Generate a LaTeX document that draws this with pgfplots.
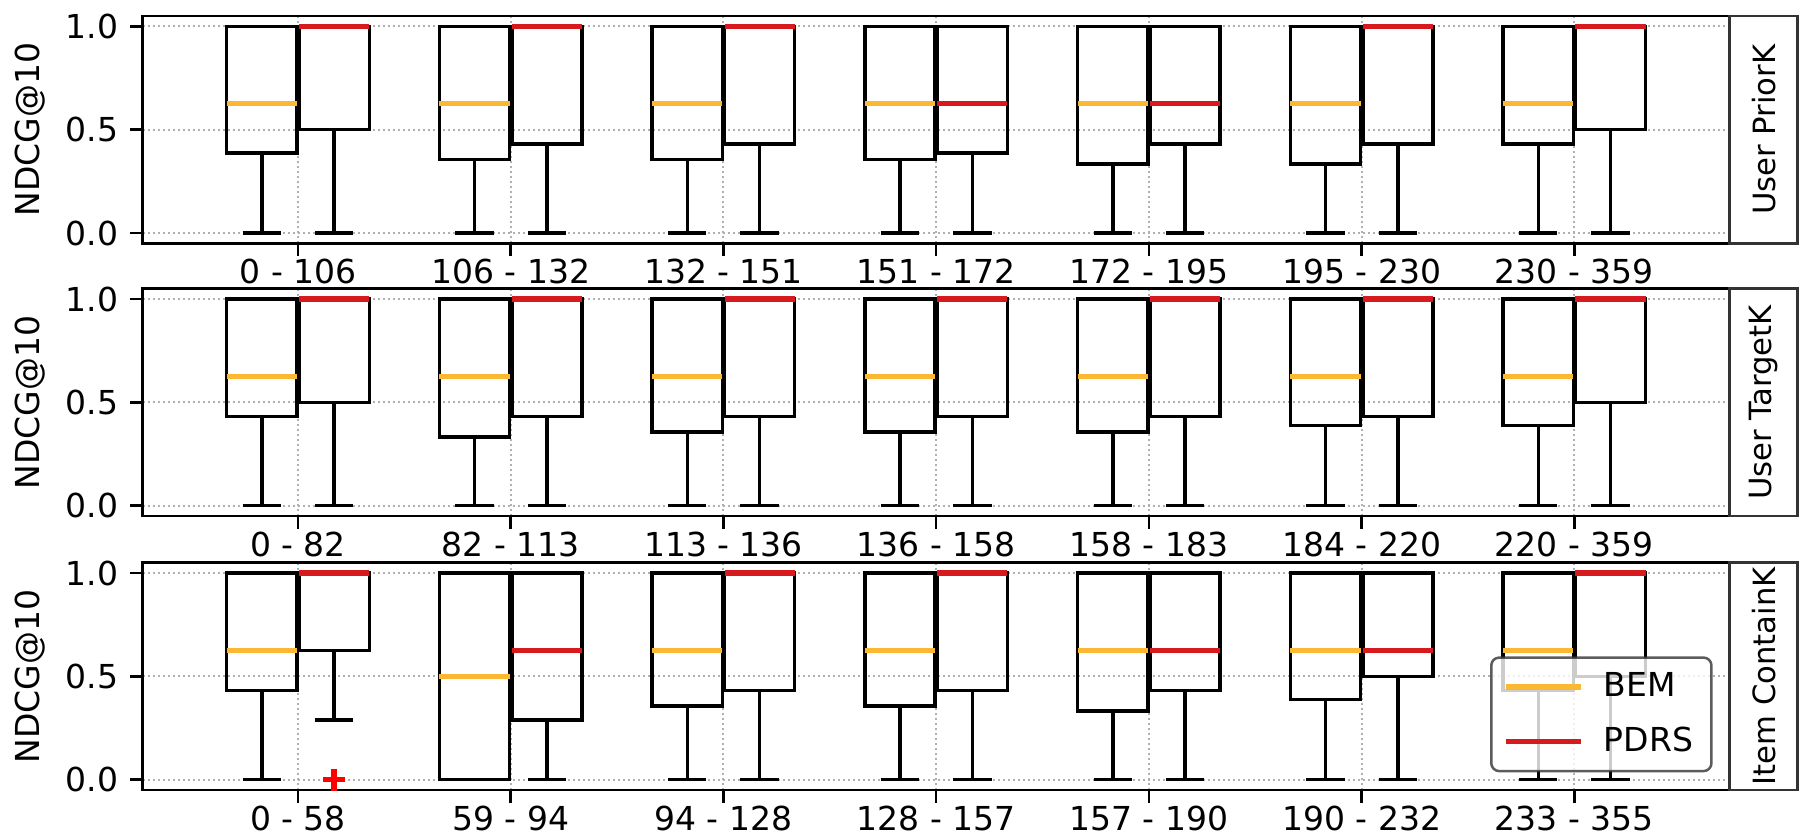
\documentclass[border=0pt]{standalone}
\usepackage{fontspec}
\setmainfont{DejaVu Sans}
\usepackage{pgfplots}
\pgfplotsset{compat=1.18}
\usepgfplotslibrary{statistics}
\definecolor{bem}{RGB}{252,184,50}
\definecolor{pdrs}{RGB}{214,26,30}
\definecolor{gridc}{RGB}{176,176,176}

\pgfplotsset{
  panel/.style={
    scale only axis, width=476.1pt, height=68.2pt,
    xmin=-0.73, xmax=6.73, ymin=-0.05, ymax=1.05,
    xtick={0,...,6}, ytick={0,0.5,1}, yticklabels={0.0,0.5,1.0},
    tick pos=left, tick align=outside, major tick length=3.8pt,
    every tick/.style={black, line width=0.75pt},
    axis line style={line width=0.75pt},
    xticklabel style={yshift=2.6pt},
    grid=major,
    major grid style={gridc, line width=0.6pt, dash pattern=on 0.6pt off 0.9pt},
    ylabel={NDCG@10},
    every axis y label/.style={at={(axis description cs:-0.071,0.5)}, anchor=center, rotate=90},
    clip=false,
    anchor=north west,
    font=\fontsize{9.9}{11.9}\selectfont,
    /pgf/number format/assume math mode=true,
    boxplot/draw direction=y,
  },
  bemb/.style={black, solid, line width=1.05pt, boxplot/every median/.style={draw=bem, line width=1.6pt}},
  pdrsb/.style={black, solid, line width=1.05pt, boxplot/every median/.style={draw=pdrs, line width=1.6pt}},
}
% #1 draw position, #2 lower whisker, #3 lower quartile, #4 median, #5 style
\newcommand{\bx}[5]{%
  \addplot[#5, forget plot, boxplot prepared={draw position=#1, lower whisker=#2,
    lower quartile=#3, median=#4, upper quartile=1, upper whisker=1,
    box extend=0.33, whisker extend=0.18}] coordinates {};}

\begin{document}
\begin{tikzpicture}
\useasboundingbox (0,0) rectangle (544.8pt,251.4pt);

% ---------------- User PriorK ----------------
\begin{axis}[panel, at={(42.81pt,246.6pt)},
  xticklabels={0 - 106,106 - 132,132 - 151,151 - 172,172 - 195,195 - 230,230 - 359}]
\bx{-0.17}{0}{0.387}{0.625}{bemb} \bx{0.17}{0}{0.5}{1}{pdrsb}
\bx{0.83}{0}{0.356}{0.625}{bemb}  \bx{1.17}{0}{0.431}{1}{pdrsb}
\bx{1.83}{0}{0.356}{0.625}{bemb}  \bx{2.17}{0}{0.431}{1}{pdrsb}
\bx{2.83}{0}{0.356}{0.625}{bemb}  \bx{3.17}{0}{0.387}{0.625}{pdrsb}
\bx{3.83}{0}{0.333}{0.625}{bemb}  \bx{4.17}{0}{0.431}{0.625}{pdrsb}
\bx{4.83}{0}{0.333}{0.625}{bemb}  \bx{5.17}{0}{0.431}{1}{pdrsb}
\bx{5.83}{0}{0.431}{0.625}{bemb}  \bx{6.17}{0}{0.5}{1}{pdrsb}
\draw[black!80, line width=0.75pt] (rel axis cs:1,0) rectangle (rel axis cs:1.0428,1);
\node[rotate=90, font=\fontsize{9.2}{10}\selectfont] at (rel axis cs:1.0214,0.5) {User PriorK};
\end{axis}

% ---------------- User TargetK ----------------
\begin{axis}[panel, at={(42.81pt,164.79pt)},
  xticklabels={0 - 82,82 - 113,113 - 136,136 - 158,158 - 183,184 - 220,220 - 359}]
\bx{-0.17}{0}{0.431}{0.625}{bemb} \bx{0.17}{0}{0.5}{1}{pdrsb}
\bx{0.83}{0}{0.333}{0.625}{bemb}  \bx{1.17}{0}{0.431}{1}{pdrsb}
\bx{1.83}{0}{0.356}{0.625}{bemb}  \bx{2.17}{0}{0.431}{1}{pdrsb}
\bx{2.83}{0}{0.356}{0.625}{bemb}  \bx{3.17}{0}{0.431}{1}{pdrsb}
\bx{3.83}{0}{0.356}{0.625}{bemb}  \bx{4.17}{0}{0.431}{1}{pdrsb}
\bx{4.83}{0}{0.387}{0.625}{bemb}  \bx{5.17}{0}{0.431}{1}{pdrsb}
\bx{5.83}{0}{0.387}{0.625}{bemb}  \bx{6.17}{0}{0.5}{1}{pdrsb}
\draw[black!80, line width=0.75pt] (rel axis cs:1,0) rectangle (rel axis cs:1.0428,1);
\node[rotate=90, font=\fontsize{9.2}{10}\selectfont] at (rel axis cs:1.0214,0.5) {User TargetK};
\end{axis}

% ---------------- Item ContainK ----------------
\begin{axis}[panel, at={(42.81pt,82.59pt)},
  xticklabels={0 - 58,59 - 94,94 - 128,128 - 157,157 - 190,190 - 232,233 - 355},
  legend style={at={(rel axis cs:1,0)}, anchor=south east, xshift=-5.1pt, yshift=5.3pt,
    fill=white, fill opacity=0.8, draw opacity=0.8, text opacity=1, draw=black!80,
    rounded corners=2.4pt, line width=0.75pt, row sep=3.5pt, inner xsep=3.5pt, inner ysep=2.5pt,
    font=\fontsize{9.9}{11.9}\selectfont,
    /tikz/every odd column/.append style={column sep=4.2pt}},
  legend cell align=left,
  legend image code/.code={\draw[#1, line width=1.6pt, draw opacity=1] (0pt,0pt) -- (22.5pt,0pt);}]
\bx{-0.17}{0}{0.431}{0.625}{bemb}   \bx{0.17}{0.289}{0.625}{1}{pdrsb}
\addplot[only marks, mark=+, mark size=3.3pt, red, forget plot,
  mark options={draw=red, line width=1.6pt, solid}] coordinates {(0.17,0)};
\bx{0.83}{0}{0}{0.5}{bemb}          \bx{1.17}{0}{0.289}{0.625}{pdrsb}
\bx{1.83}{0}{0.356}{0.625}{bemb}    \bx{2.17}{0}{0.431}{1}{pdrsb}
\bx{2.83}{0}{0.356}{0.625}{bemb}    \bx{3.17}{0}{0.431}{1}{pdrsb}
\bx{3.83}{0}{0.333}{0.625}{bemb}    \bx{4.17}{0}{0.431}{0.625}{pdrsb}
\bx{4.83}{0}{0.387}{0.625}{bemb}    \bx{5.17}{0}{0.5}{0.625}{pdrsb}
\bx{5.83}{0}{0.431}{0.625}{bemb}    \bx{6.17}{0}{0.5}{1}{pdrsb}
\addlegendimage{draw=bem}\addlegendentry{BEM}
\addlegendimage{draw=pdrs}\addlegendentry{PDRS}
\draw[black!80, line width=0.75pt] (rel axis cs:1,0) rectangle (rel axis cs:1.0428,1);
\node[rotate=90, font=\fontsize{9.2}{10}\selectfont] at (rel axis cs:1.0214,0.5) {Item ContainK};
\end{axis}
\end{tikzpicture}
\end{document}
